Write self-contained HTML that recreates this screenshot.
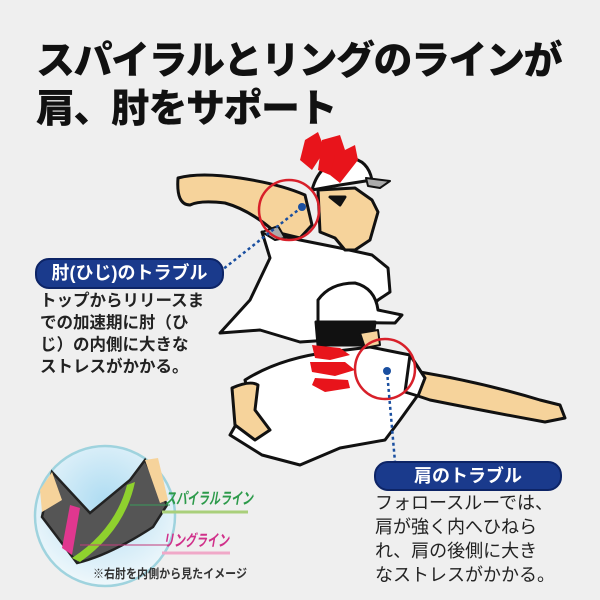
<!DOCTYPE html>
<html><head><meta charset="utf-8"><style>
body{margin:0;width:600px;height:600px;background:#efefef;overflow:hidden;position:relative;font-family:"Liberation Sans","Noto Sans CJK JP",sans-serif;}
.t{position:absolute;left:36px;font-weight:900;font-size:39px;color:#111;letter-spacing:-1.5px;white-space:nowrap;}
.pill{position:absolute;background:#1a3a8c;color:#fff;font-weight:bold;font-size:18px;border-radius:14px;text-align:center;line-height:27px;border:2px solid #0d2466;}
.txt{position:absolute;font-size:16.5px;font-weight:bold;color:#222;line-height:22px;white-space:nowrap;}
</style></head><body>
<div class="t" style="top:30px">スパイラルとリングのラインが</div>
<div class="t" style="top:78px">肩、肘をサポート</div>
<svg width="600" height="600" style="position:absolute;left:0;top:0">
<g stroke="#111" stroke-width="3" stroke-linejoin="round">
<path d="M262,232 L300,240 L340,248 L372,255 L388,268 L390,292 L378,300 L360,320 L330,340 L300,342 L260,330 L220,333 L250,300 L270,258 Z" fill="#fff"/>
<path d="M178,178 Q200,172 240,178 Q280,184 305,195 L312,225 L300,238 L275,232 Q250,210 225,203 Q200,200 190,205 Q176,205 178,178 Z" fill="#f6d39b"/>
<path d="M262,232 L278,226 L285,238 L275,240 Z" fill="#aaa" stroke-width="2"/>
<path d="M318,190 L355,188 L372,200 L378,212 L370,240 L355,250 L345,250 L335,238 L320,232 Z" fill="#f6d39b"/>
<path d="M312,190 Q320,160 350,158 Q368,160 372,180 L340,185 Z" fill="#fff"/>
<path d="M366,178 L390,181 L380,188 L368,186 Z" fill="#aaa" stroke-width="2"/>
<path d="M330,197 L345,197 L340,205 Z" fill="#111"/>
<path d="M245,380 Q280,358 330,352 L370,347 L410,355 L425,378 L418,395 L400,420 L385,440 L340,448 L300,465 L262,455 L230,435 L250,400 Z" fill="#fff"/>
<path d="M232,388 Q250,380 258,385 L255,410 L270,430 L255,440 L235,425 Z" fill="#f6d39b"/>
<path d="M420,372 Q480,382 540,400 L560,405 L565,418 L545,422 Q490,412 430,400 L418,396 Z" fill="#f6d39b"/>
<path d="M410,355 L425,378 L418,396 L405,392 Z" fill="#fff"/>
<path d="M318,300 Q330,283 355,283 Q375,288 378,310 L402,315 L395,323 L318,322 Z" fill="#fff"/>
<path d="M316,322 L375,322 L372,345 L318,345 Z" fill="#111"/>
<path d="M360,333 L378,330 L380,345 L365,348 Z" fill="#f6d39b" stroke-width="2"/>
</g>
<g fill="#e8141b">
<polygon points="305,140 318,132 325,150 312,170 300,160"/>
<polygon points="322,140 340,135 345,150 330,175 318,170"/>
<polygon points="335,155 355,145 358,160 340,183 330,175"/>
<polygon points="312,345 340,348 350,355 330,360 315,358"/>
<polygon points="310,362 345,362 355,370 335,376 312,372"/>
<polygon points="315,378 348,380 350,388 325,392 312,385"/>
</g>
<circle cx="289" cy="210" r="30" fill="none" stroke="#d8202a" stroke-width="2.5"/>
<circle cx="385" cy="369" r="30" fill="none" stroke="#d8202a" stroke-width="2.5"/>
<circle cx="302" cy="207" r="4" fill="#1a4fa0"/>
<circle cx="387" cy="371" r="4" fill="#1a4fa0"/>
<line x1="302" y1="207" x2="222" y2="270" stroke="#1a4fa0" stroke-width="2.5" stroke-dasharray="3,3"/>
<line x1="387" y1="371" x2="395" y2="462" stroke="#1a4fa0" stroke-width="2.5" stroke-dasharray="3,3"/>
<defs><radialGradient id="g" cx="0.5" cy="0.4" r="0.6"><stop offset="0" stop-color="#aedcf2"/><stop offset="1" stop-color="#eef7fb"/></radialGradient></defs>
<circle cx="105" cy="516" r="70" fill="url(#g)" stroke="#9fd3de" stroke-width="2.5"/>
<path d="M52,472 L90,513 L130,480 L145,460 L167,505 L153,527 Q110,555 77,563 L42,517 Z" fill="#555" stroke="#222" stroke-width="2.5"/>
<path d="M52,472 L62,500 L42,512 L40,490 Z" fill="#f6d39b"/>
<path d="M145,460 L158,458 L168,500 L160,503 Z" fill="#f6d39b"/>
<path d="M127,485 L135,482 Q125,530 80,562 L72,558 Q115,530 127,485 Z" fill="#8fd12e"/>
<path d="M70,505 L80,508 L72,555 L62,548 Z" fill="#e0378f"/>
<line x1="130" y1="505" x2="170" y2="505" stroke="#3a9a5a"/>
<line x1="80" y1="545" x2="168" y2="545" stroke="#c23a7a"/>
<line x1="162" y1="512" x2="248" y2="512" stroke="#a9cf7a" stroke-width="3"/>
<line x1="162" y1="553" x2="230" y2="553" stroke="#f0a8c8" stroke-width="3"/>
<text x="165" y="504" font-size="16" font-style="italic" font-weight="bold" fill="#2c9a4a" textLength="88" lengthAdjust="spacingAndGlyphs" font-family="Liberation Sans,Noto Sans CJK JP,sans-serif">スパイラルライン</text>
<text x="163" y="546" font-size="16" font-style="italic" font-weight="bold" fill="#d0308a" textLength="66" lengthAdjust="spacingAndGlyphs" font-family="Liberation Sans,Noto Sans CJK JP,sans-serif">リングライン</text>
<text x="93" y="578" font-size="12.5" font-weight="bold" fill="#333" textLength="154" lengthAdjust="spacingAndGlyphs" font-family="Liberation Sans,Noto Sans CJK JP,sans-serif">※右肘を内側から見たイメージ</text>
</svg>
<div class="pill" style="left:35px;top:258px;width:185px;height:27px">肘(ひじ)のトラブル</div>
<div class="txt" style="left:40px;top:290px">トップからリリースま<br>での加速期に肘（ひ<br>じ）の内側に大きな<br>ストレスがかかる。</div>
<div class="pill" style="left:374px;top:461px;width:184px;height:26px">肩のトラブル</div>
<div class="txt" style="left:375px;top:491px;font-weight:normal;font-size:18px;line-height:24px;">フォロースルーでは、<br>肩が強く内へひねら<br>れ、肩の後側に大き<br>なストレスがかかる。</div>
</body></html>
